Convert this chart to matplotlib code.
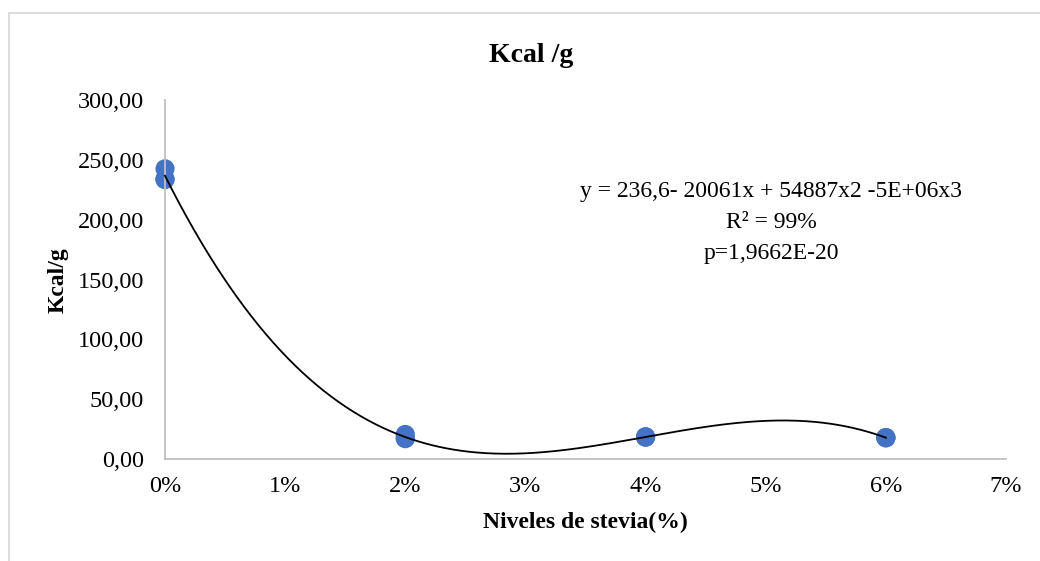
import numpy as np
import matplotlib
matplotlib.use("Agg")
import matplotlib.pyplot as plt
from matplotlib.patches import Rectangle
from matplotlib.ticker import FuncFormatter

plt.rcParams['font.family'] = ['Liberation Serif', 'DejaVu Serif']

# Data (stevia level as fraction, Kcal/g)
stevia = [0.0, 0.0, 0.0, 0.02, 0.02, 0.02, 0.04, 0.04, 0.04, 0.06, 0.06, 0.06]
kcal = [242.5, 234.0, 233.5, 20.5, 17.0, 17.5, 18.6, 18.3, 18.3, 17.9, 17.8, 17.7]
x_ticks = [0.0, 0.01, 0.02, 0.03, 0.04, 0.05, 0.06, 0.07]
y_ticks = [0, 50, 100, 150, 200, 250, 300]
title = "Kcal /g"
x_label = "Niveles de stevia(%)"
y_label = "Kcal/g"
eq_lines = ["y = 236,6- 20061x + 54887x2 -5E+06x3", "R² = 99%", "p=1,9662E-20"]

fig = plt.figure(figsize=(10.4, 5.61), dpi=100)
W, H = 1040, 561
# outer chart border
fig.patches.append(Rectangle((9 / W, -0.05), 1.1, 1 - 13 / H + 0.05, transform=fig.transFigure,
                             fill=False, edgecolor='#D9D9D9', linewidth=1.3))

ax = fig.add_axes([165 / W, 1 - 459 / H, (1006 - 165) / W, (459 - 100) / H])

# cubic trendline
coef = np.polyfit(stevia, kcal, 3)
xs = np.linspace(0, 0.06, 300)
ax.plot(xs, np.polyval(coef, xs), color='black', linewidth=1.3, zorder=3, clip_on=False)
ax.scatter(stevia, kcal, s=190, color='#4472C4', edgecolors='none', zorder=2, clip_on=False)

ax.set_xlim(0, 0.07)
ax.set_ylim(0, 300)
ax.set_xticks(x_ticks)
ax.set_yticks(y_ticks)
ax.xaxis.set_major_formatter(FuncFormatter(lambda v, p: f"{v*100:.0f}%"))
ax.yaxis.set_major_formatter(FuncFormatter(lambda v, p: f"{v:.2f}".replace('.', ',')))
ax.tick_params(length=0, labelsize=17.5, colors='black')
ax.tick_params(axis='y', pad=15)
ax.tick_params(axis='x', pad=12)
for s in ['top', 'right']:
    ax.spines[s].set_visible(False)
for s in ['left', 'bottom']:
    ax.spines[s].set_color('#BFBFBF')
    ax.spines[s].set_linewidth(1.3)

fig.text(531 / W, 1 - 55 / H, title, ha='center', va='center', fontsize=20, fontweight='bold')
fig.text(585 / W, 1 - 522 / H, x_label, ha='center', va='center', fontsize=17, fontweight='bold')
fig.text(58 / W, 1 - 280 / H, y_label, ha='center', va='center', fontsize=17, fontweight='bold', rotation=90)

for i, line in enumerate(eq_lines):
    fig.text(771 / W, 1 - (192 + 31 * i) / H, line, ha='center', va='center', fontsize=17)

fig.savefig("out.png", dpi=100)
